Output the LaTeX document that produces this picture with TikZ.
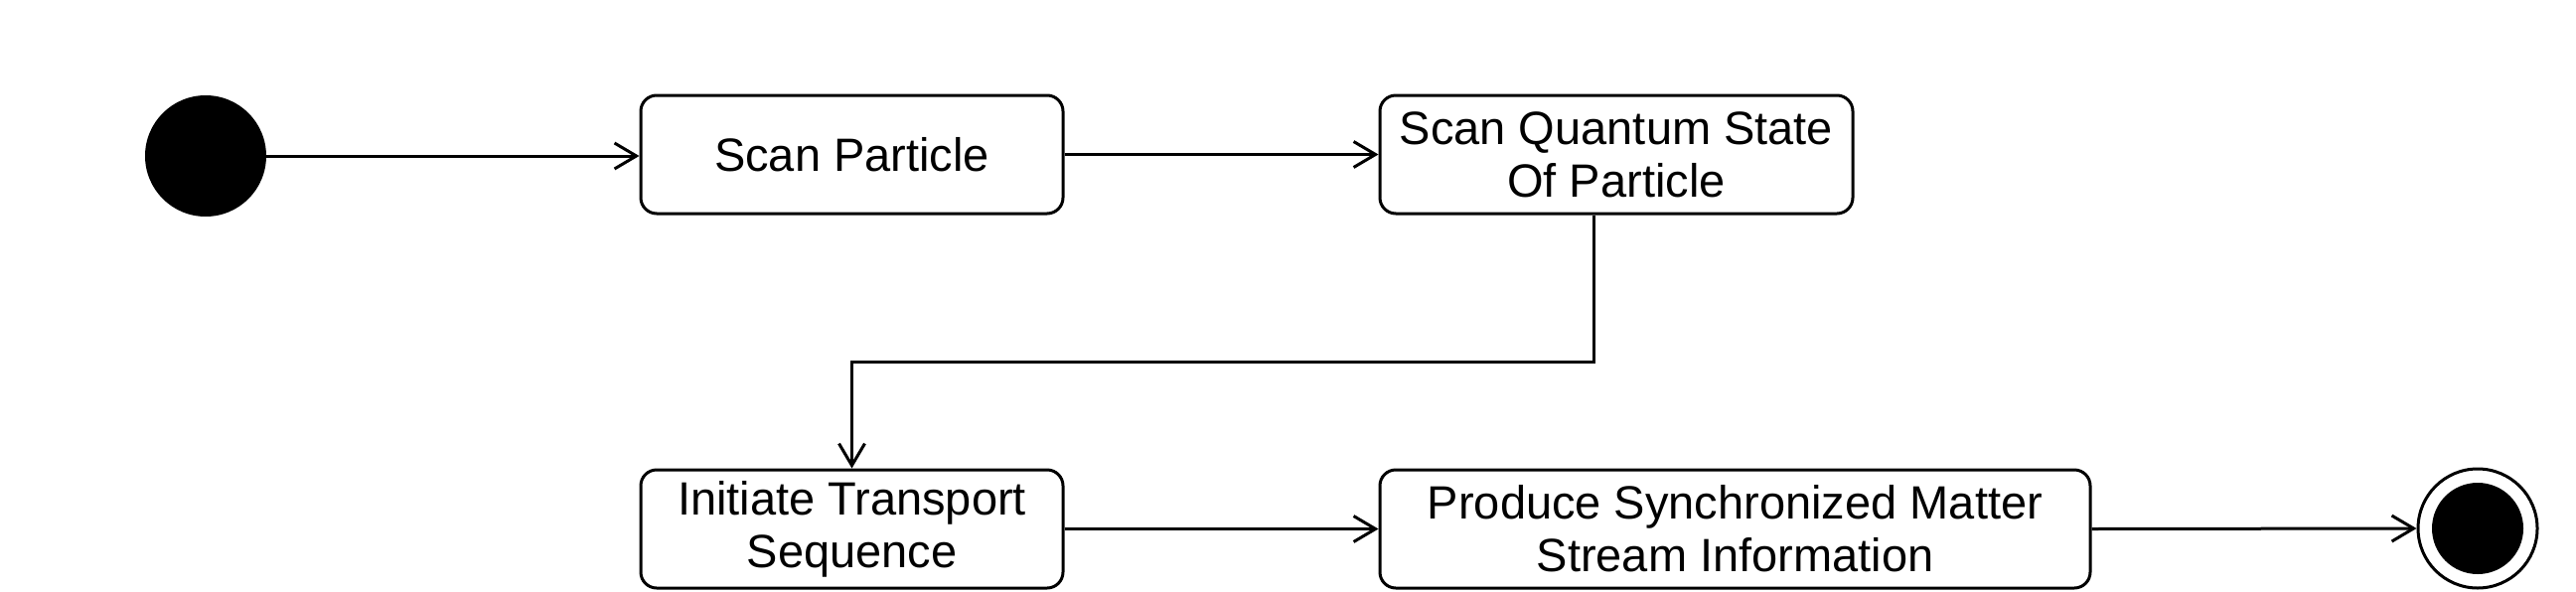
\documentclass[tikz,border=0pt]{standalone}
\usepackage{fontspec}
\setmainfont{Liberation Sans}
\usetikzlibrary{arrows.meta}
\begin{document}
\begin{tikzpicture}[x=1pt,y=-1pt,
  statebox/.style={draw=black,line width=3pt,fill=white,rounded corners=16pt,
    align=center,inner sep=0pt,minimum height=119pt,
    font=\fontsize{47}{53}\selectfont},
  arr/.style={draw=black,line width=3pt,-{Straight Barb[length=22pt,width=26pt,line width=3pt]}},
  startdot/.style={circle,fill=black,inner sep=0pt,minimum size=122pt},
  enddot/.style={circle,draw=black,line width=3pt,fill=white,inner sep=0pt,minimum size=120pt}]
\useasboundingbox (0,0) rectangle (2593,595);
\node[startdot] (s) at (207,157) {};
\node[statebox,minimum width=425pt] (b1) at (857.5,155.5) {Scan Particle};
\node[statebox,minimum width=476pt] (b2) at (1627,155.5) {Scan Quantum State\\Of Particle};
\node[statebox,minimum width=425pt] (b3) at (857.5,532.5) {Initiate Transport\\Sequence};
\node[statebox,minimum width=715pt] (b4) at (1746.5,532.5) {Produce Synchronized Matter\\Stream Information};
\node[enddot] (e) at (2494,532) {};
\node[circle,fill=black,inner sep=0pt,minimum size=92pt] (ei) at (e.center) {};
\coordinate (c1) at (1604,364);
\draw[arr] (s.east) -- (b1.west |- s.east);
\draw[arr] (b1.east) -- (b2.west);
\draw[arr] (b2.south -| c1) -- (c1) -| (b3.north);
\draw[arr] (b3.east) -- (b4.west);
\draw[arr] (b4.east) -- (e.west);
\end{tikzpicture}
\end{document}
